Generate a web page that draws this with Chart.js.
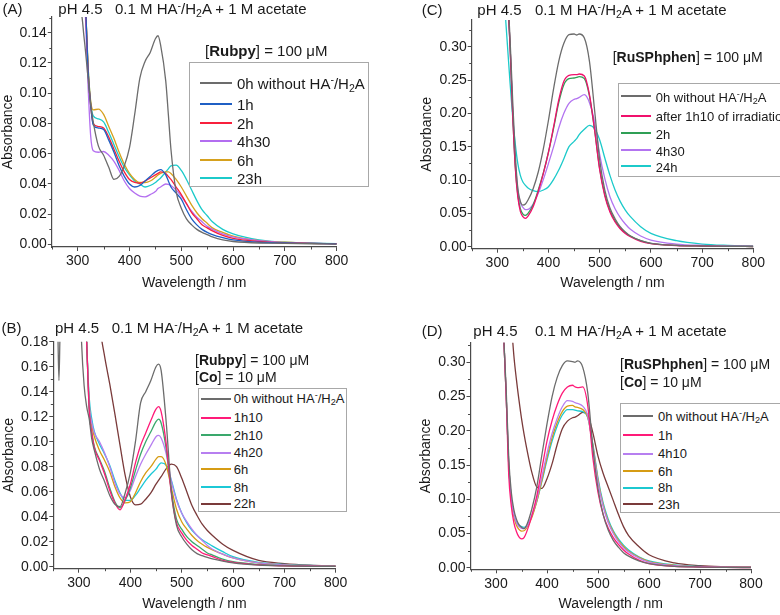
<!DOCTYPE html>
<html>
<head>
<meta charset="utf-8">
<script src="https://cdn.jsdelivr.net/npm/chart.js@4.4.0/dist/chart.umd.min.js"></script>
<style>
body { margin: 0; width: 780px; height: 615px; overflow: hidden; background: #fff; position: relative;
       font-family: "Liberation Sans", Arial, sans-serif; color: #1a1a1a; }
canvas { position: absolute; }
.txt { position: absolute; white-space: nowrap; line-height: 16px; transform: translateY(-50%); }
.lg { position: absolute; border: 1px solid #a8a8a8; background: #fff; overflow: hidden; box-sizing: border-box; }
.row { position: absolute; white-space: nowrap; line-height: 15px; transform: translateY(-50%); }
.sw { position: absolute; height: 2px; }
sup, sub { font-size: 0.7em; line-height: 0; }
sup { vertical-align: 0.5em; }
sub { vertical-align: -0.3em; }
</style>
</head>
<body>
<script>
const fontFam = '"Liberation Sans", Arial, sans-serif';

// ---- (A) Rubpy ----
const wlA = [300, 305, 310, 315, 320, 325, 330, 340, 350, 360, 370, 380, 390, 400, 410, 420, 430, 440, 450, 455, 460, 470, 475, 480, 490, 500, 510, 520, 530, 540, 550, 560, 580, 600, 650, 700, 750, 800];
const a0h   = [0.26, 0.17, 0.145, 0.128, 0.110, 0.093, 0.081, 0.065, 0.059, 0.051, 0.043, 0.045, 0.052, 0.064, 0.086, 0.110, 0.121, 0.127, 0.136, 0.138, 0.132, 0.108, 0.086, 0.063, 0.035, 0.024, 0.017, 0.013, 0.010, 0.008, 0.0065, 0.005, 0.003, 0.002, 0.001, 0.0008, 0.0005, 0.0003];
const a1h   = [0.4, 0.3, 0.2, 0.16, 0.115, 0.092, 0.079, 0.077, 0.076, 0.069, 0.061, 0.052, 0.045, 0.040, 0.038, 0.039, 0.042, 0.045, 0.048, 0.049, 0.0495, 0.046, 0.042, 0.038, 0.034, 0.030, 0.023, 0.017, 0.013, 0.010, 0.008, 0.0065, 0.0045, 0.003, 0.0015, 0.001, 0.0007, 0.0004];
const a2h   = [0.4, 0.3, 0.2, 0.16, 0.115, 0.092, 0.080, 0.078, 0.077, 0.071, 0.063, 0.055, 0.048, 0.043, 0.041, 0.0405, 0.042, 0.044, 0.046, 0.047, 0.048, 0.047, 0.045, 0.043, 0.038, 0.033, 0.027, 0.021, 0.017, 0.013, 0.011, 0.009, 0.006, 0.004, 0.002, 0.001, 0.0008, 0.0005];
const a4h30 = [0.4, 0.3, 0.2, 0.15, 0.105, 0.072, 0.062, 0.061, 0.0615, 0.059, 0.055, 0.049, 0.042, 0.037, 0.034, 0.032, 0.0315, 0.033, 0.035, 0.037, 0.038, 0.040, 0.0398, 0.039, 0.036, 0.032, 0.027, 0.022, 0.018, 0.015, 0.012, 0.010, 0.007, 0.005, 0.0025, 0.0012, 0.0008, 0.0005];
const a6h   = [0.4, 0.3, 0.2, 0.16, 0.118, 0.095, 0.089, 0.0895, 0.086, 0.078, 0.070, 0.061, 0.053, 0.047, 0.043, 0.041, 0.041, 0.042, 0.0445, 0.046, 0.047, 0.048, 0.048, 0.047, 0.043, 0.038, 0.032, 0.026, 0.021, 0.017, 0.014, 0.011, 0.008, 0.0055, 0.0025, 0.0015, 0.0008, 0.0005];
const a23h  = [0.4, 0.3, 0.2, 0.16, 0.118, 0.094, 0.085, 0.083, 0.081, 0.074, 0.066, 0.058, 0.051, 0.046, 0.042, 0.040, 0.038, 0.039, 0.041, 0.0425, 0.044, 0.048, 0.050, 0.052, 0.0525, 0.049, 0.043, 0.036, 0.029, 0.023, 0.019, 0.015, 0.010, 0.007, 0.003, 0.0015, 0.001, 0.0005];
const labelsA = ["0h without HA⁻/H₂A", "1h", "2h", "4h30", "6h", "23h"];
const colorsA = ["#6c6c6c", "#1f5fc4", "#f8203c", "#b36ef0", "#d6a11e", "#1ccaca"];
const yTicksA = [0, 0.02, 0.04, 0.06, 0.08, 0.10, 0.12, 0.14];
const yMinorA = [0.01, 0.03, 0.05, 0.07, 0.09, 0.11, 0.13, 0.15];

// ---- (B) Rubpy + Co ----
const wlB = [250, 255, 259, 261, 263, 267, 280, 300, 305, 310, 315, 320, 325, 330, 340, 350, 360, 370, 380, 390, 400, 410, 420, 430, 440, 450, 455, 460, 470, 480, 490, 500, 510, 520, 530, 540, 550, 560, 580, 600, 650, 700, 750, 800];
const b0h   = [0.35, 0.26, 0.185, 0.149, 0.185, 0.26, 0.4, 0.25, 0.18, 0.145, 0.128, 0.118, 0.102, 0.093, 0.078, 0.068, 0.057, 0.050, 0.048, 0.059, 0.075, 0.100, 0.131, 0.140, 0.149, 0.160, 0.162, 0.157, 0.115, 0.060, 0.033, 0.024, 0.018, 0.0135, 0.0105, 0.0088, 0.0074, 0.0063, 0.0045, 0.003, 0.0012, 0.0006, 0.0003, 0.0002];
const b1h10 = [null, null, null, null, null, null, null, 0.5, 0.32, 0.24, 0.18, 0.125, 0.107, 0.095, 0.085, 0.074, 0.061, 0.051, 0.0455, 0.054, 0.066, 0.083, 0.097, 0.107, 0.117, 0.126, 0.128, 0.124, 0.098, 0.058, 0.035, 0.027, 0.021, 0.017, 0.014, 0.011, 0.0095, 0.008, 0.005, 0.0035, 0.0015, 0.0007, 0.0004, 0.0002];
const b2h10 = [null, null, null, null, null, null, null, 0.5, 0.32, 0.24, 0.18, 0.125, 0.107, 0.096, 0.086, 0.076, 0.063, 0.052, 0.047, 0.053, 0.063, 0.077, 0.090, 0.100, 0.108, 0.116, 0.118, 0.115, 0.094, 0.060, 0.038, 0.030, 0.024, 0.020, 0.017, 0.014, 0.011, 0.0093, 0.006, 0.004, 0.0018, 0.0008, 0.0004, 0.0002];
const b4h20 = [null, null, null, null, null, null, null, 0.5, 0.32, 0.24, 0.18, 0.13, 0.115, 0.107, 0.100, 0.091, 0.080, 0.067, 0.058, 0.055, 0.061, 0.072, 0.082, 0.090, 0.097, 0.104, 0.105, 0.103, 0.090, 0.068, 0.053, 0.043, 0.036, 0.030, 0.025, 0.021, 0.017, 0.014, 0.010, 0.007, 0.003, 0.0015, 0.0008, 0.0004];
const b6h   = [null, null, null, null, null, null, null, 0.5, 0.32, 0.24, 0.18, 0.13, 0.113, 0.104, 0.093, 0.085, 0.076, 0.064, 0.055, 0.051, 0.052, 0.059, 0.068, 0.075, 0.080, 0.086, 0.088, 0.088, 0.081, 0.063, 0.046, 0.036, 0.030, 0.025, 0.021, 0.018, 0.0155, 0.0135, 0.010, 0.007, 0.003, 0.0015, 0.0008, 0.0004];
const b8h   = [null, null, null, null, null, null, null, 0.5, 0.32, 0.24, 0.18, 0.135, 0.118, 0.108, 0.098, 0.090, 0.081, 0.069, 0.059, 0.053, 0.053, 0.057, 0.063, 0.069, 0.074, 0.078, 0.081, 0.083, 0.081, 0.069, 0.054, 0.043, 0.035, 0.029, 0.025, 0.0215, 0.019, 0.0165, 0.012, 0.008, 0.0035, 0.0018, 0.001, 0.0005];
const b22h  = [null, null, null, null, null, null, null, 0.7, 0.6, 0.5, 0.42, 0.35, 0.3, 0.25, 0.195, 0.168, 0.146, 0.122, 0.097, 0.073, 0.056, 0.0495, 0.050, 0.054, 0.059, 0.066, 0.069, 0.072, 0.0785, 0.082, 0.080, 0.071, 0.060, 0.049, 0.041, 0.034, 0.029, 0.025, 0.018, 0.013, 0.005, 0.0025, 0.0012, 0.0006];
const labelsB = ["0h without HA⁻/H₂A", "1h10", "2h10", "4h20", "6h", "8h", "22h"];
const colorsB = ["#6c6c6c", "#ff1a78", "#3aa86c", "#b77ff0", "#d69c14", "#1cc8d6", "#7a3a3a"];
const yTicksB = [0, 0.02, 0.04, 0.06, 0.08, 0.10, 0.12, 0.14, 0.16, 0.18];
const yMinorB = [0.01, 0.03, 0.05, 0.07, 0.09, 0.11, 0.13, 0.15, 0.17];

// ---- (C) RuSPhphen ----
const wlC = [300, 310, 320, 325, 330, 335, 340, 345, 350, 355, 360, 370, 380, 390, 400, 410, 420, 430, 440, 450, 455, 460, 470, 480, 490, 500, 510, 520, 530, 540, 550, 560, 580, 600, 650, 700, 750, 800];
const c0h   = [0.6, 0.45, 0.38, 0.31, 0.22, 0.14, 0.088, 0.068, 0.0625, 0.064, 0.070, 0.087, 0.112, 0.147, 0.190, 0.237, 0.278, 0.305, 0.318, 0.319, 0.3175, 0.319, 0.313, 0.278, 0.205, 0.130, 0.085, 0.058, 0.042, 0.030, 0.022, 0.016, 0.009, 0.005, 0.002, 0.001, 0.0005, 0.0003];
const c1h10 = [0.6, 0.45, 0.37, 0.30, 0.20, 0.12, 0.075, 0.053, 0.045, 0.0425, 0.046, 0.060, 0.083, 0.110, 0.142, 0.180, 0.220, 0.248, 0.257, 0.258, 0.258, 0.259, 0.256, 0.228, 0.175, 0.115, 0.076, 0.052, 0.037, 0.027, 0.020, 0.015, 0.008, 0.0045, 0.0018, 0.001, 0.0005, 0.0003];
const c2h   = [0.6, 0.45, 0.37, 0.30, 0.20, 0.122, 0.078, 0.057, 0.049, 0.047, 0.050, 0.063, 0.085, 0.111, 0.142, 0.178, 0.216, 0.243, 0.252, 0.253, 0.254, 0.255, 0.252, 0.226, 0.175, 0.117, 0.078, 0.054, 0.039, 0.028, 0.021, 0.016, 0.009, 0.005, 0.002, 0.001, 0.0005, 0.0003];
const c4h30 = [0.6, 0.45, 0.37, 0.30, 0.205, 0.13, 0.086, 0.066, 0.059, 0.0555, 0.056, 0.064, 0.080, 0.101, 0.125, 0.150, 0.178, 0.200, 0.215, 0.221, 0.222, 0.224, 0.228, 0.216, 0.187, 0.138, 0.102, 0.075, 0.057, 0.044, 0.034, 0.026, 0.016, 0.010, 0.004, 0.002, 0.001, 0.0005];
const c24h  = [0.6, 0.42, 0.30, 0.245, 0.195, 0.155, 0.125, 0.107, 0.097, 0.092, 0.088, 0.084, 0.0825, 0.085, 0.090, 0.101, 0.115, 0.132, 0.150, 0.158, 0.162, 0.168, 0.176, 0.182, 0.177, 0.160, 0.133, 0.107, 0.085, 0.068, 0.055, 0.045, 0.030, 0.020, 0.009, 0.004, 0.002, 0.001];
const labelsC = ["0h without HA⁻/H₂A", "after 1h10 of irradiation", "2h", "4h30", "24h"];
const colorsC = ["#6c6c6c", "#f0106c", "#2f9f55", "#b374f0", "#1ccaca"];
const yTicksC = [0, 0.05, 0.10, 0.15, 0.20, 0.25, 0.30];
const yMinorC = [0.025, 0.075, 0.125, 0.175, 0.225, 0.275, 0.325];

// ---- (D) RuSPhphen + Co ----
const wlD = [300, 305, 310, 315, 320, 325, 330, 335, 340, 345, 350, 355, 360, 370, 380, 390, 400, 410, 420, 430, 440, 450, 455, 460, 470, 480, 490, 500, 510, 520, 530, 540, 550, 560, 580, 600, 650, 700, 750, 800];
const d0h   = [0.6, 0.48, 0.4, 0.34, 0.26, 0.16, 0.11, 0.085, 0.071, 0.063, 0.059, 0.057, 0.062, 0.085, 0.118, 0.165, 0.210, 0.250, 0.278, 0.295, 0.302, 0.301, 0.300, 0.302, 0.293, 0.255, 0.175, 0.115, 0.078, 0.055, 0.040, 0.030, 0.022, 0.017, 0.010, 0.006, 0.002, 0.001, 0.0005, 0.0003];
const d1h   = [0.6, 0.48, 0.4, 0.34, 0.25, 0.135, 0.09, 0.066, 0.053, 0.045, 0.042, 0.044, 0.052, 0.075, 0.105, 0.145, 0.185, 0.215, 0.238, 0.255, 0.264, 0.2665, 0.264, 0.263, 0.264, 0.236, 0.160, 0.110, 0.078, 0.058, 0.044, 0.034, 0.026, 0.020, 0.011, 0.006, 0.002, 0.001, 0.0005, 0.0003];
const d4h10 = [0.6, 0.48, 0.4, 0.34, 0.25, 0.15, 0.10, 0.078, 0.066, 0.060, 0.0575, 0.057, 0.060, 0.076, 0.100, 0.133, 0.167, 0.196, 0.218, 0.235, 0.244, 0.243, 0.241, 0.240, 0.236, 0.222, 0.175, 0.125, 0.090, 0.066, 0.050, 0.038, 0.029, 0.023, 0.014, 0.008, 0.003, 0.0015, 0.0008, 0.0004];
const d6h   = [0.6, 0.48, 0.4, 0.34, 0.25, 0.15, 0.10, 0.075, 0.062, 0.056, 0.0535, 0.054, 0.058, 0.073, 0.097, 0.128, 0.161, 0.190, 0.212, 0.228, 0.236, 0.237, 0.235, 0.234, 0.231, 0.220, 0.178, 0.128, 0.092, 0.068, 0.052, 0.040, 0.031, 0.024, 0.015, 0.009, 0.0035, 0.0015, 0.0008, 0.0004];
const d8h   = [0.6, 0.48, 0.4, 0.34, 0.25, 0.15, 0.10, 0.078, 0.067, 0.062, 0.060, 0.059, 0.061, 0.075, 0.097, 0.126, 0.157, 0.185, 0.207, 0.223, 0.231, 0.231, 0.230, 0.229, 0.228, 0.219, 0.180, 0.131, 0.095, 0.071, 0.054, 0.042, 0.033, 0.026, 0.016, 0.010, 0.004, 0.0018, 0.0009, 0.0004];
const d23h  = [1.0, 0.9, 0.75, 0.6, 0.5, 0.42, 0.36, 0.31, 0.275, 0.245, 0.218, 0.195, 0.175, 0.140, 0.118, 0.116, 0.130, 0.152, 0.180, 0.203, 0.214, 0.219, 0.220, 0.222, 0.227, 0.223, 0.197, 0.163, 0.138, 0.118, 0.098, 0.078, 0.060, 0.047, 0.031, 0.019, 0.007, 0.003, 0.0015, 0.0008];
const labelsD = ["0h without HA⁻/H₂A", "1h", "4h10", "6h", "8h", "23h"];
const colorsD = ["#6c6c6c", "#ff1a78", "#b77ff0", "#d69c14", "#1cc8d0", "#7a3a3a"];
const yTicksD = [0, 0.05, 0.10, 0.15, 0.20, 0.25, 0.30];
const yMinorD = [0.025, 0.075, 0.125, 0.175, 0.225, 0.275, 0.325];

const xTicks = [300, 400, 500, 600, 700, 800];
const xMinor = [250, 350, 450, 550, 650, 750];

// small ticks between the labelled ones
const minorTicks = {
  id: 'minorTicks',
  afterDraw(chart, args, opts) {
    const { ctx, scales: { x, y } } = chart;
    ctx.save();
    ctx.strokeStyle = '#4a4a4a';
    ctx.lineWidth = 1;
    ctx.beginPath();
    opts.x.forEach(v => {
      const px = Math.round(x.getPixelForValue(v)) + 0.5;
      ctx.moveTo(px, x.top);
      ctx.lineTo(px, x.top + 2.5);
    });
    opts.y.forEach(v => {
      if (v > y.max) return;
      const py = Math.round(y.getPixelForValue(v)) + 0.5;
      ctx.moveTo(y.right, py);
      ctx.lineTo(y.right - 2.5, py);
    });
    ctx.stroke();
    ctx.restore();
  }
};

function fmt(s) {
  return s.replace('⁻', '<sup>-</sup>').replace('₂', '<sub>2</sub>');
}

function addText(html, left, cy, size) {
  const d = document.createElement('div');
  d.className = 'txt';
  d.style.left = left + 'px';
  d.style.top = cy + 'px';
  d.style.fontSize = size + 'px';
  d.innerHTML = html;
  document.body.appendChild(d);
}

function addLegend(lg, labels, colors) {
  const box = document.createElement('div');
  box.className = 'lg';
  box.style.left = lg.left + 'px';
  box.style.top = lg.top + 'px';
  box.style.width = lg.width + 'px';
  box.style.height = lg.height + 'px';
  box.style.fontSize = lg.size + 'px';
  labels.forEach((lab, i) => {
    const cy = lg.rows[i] - lg.top - 1;
    const sw = document.createElement('div');
    sw.className = 'sw';
    sw.style.left = lg.swX + 'px';
    sw.style.width = lg.swW + 'px';
    sw.style.top = Math.round(cy - 1) + 'px';
    sw.style.background = colors[i];
    box.appendChild(sw);
    const r = document.createElement('div');
    r.className = 'row';
    r.style.left = lg.textX + 'px';
    r.style.top = cy + 'px';
    r.innerHTML = fmt(lab);
    box.appendChild(r);
  });
  document.body.appendChild(box);
}

function makePanel(p) {
  const cv = document.createElement('canvas');
  cv.width = p.w; cv.height = p.h;
  cv.style.left = p.left + 'px'; cv.style.top = p.top + 'px';
  cv.style.width = p.w + 'px'; cv.style.height = p.h + 'px';
  document.body.appendChild(cv);

  const datasets = p.series.map((vals, i) => ({
    label: p.labels[i],
    data: p.wl.map((w, j) => ({ x: w, y: vals[j] })).filter(d => d.y !== null),
    borderColor: p.colors[i],
    borderWidth: 1.3,
    pointRadius: 0,
    fill: false,
    cubicInterpolationMode: 'monotone'
  }));

  const tickFont = { family: fontFam, size: p.tickSize };
  new Chart(cv.getContext('2d'), {
    type: 'line',
    data: { datasets },
    plugins: [minorTicks],
    options: {
      responsive: false,
      animation: false,
      devicePixelRatio: 1,
      layout: { padding: p.pad },
      plugins: {
        legend: { display: false },
        tooltip: { enabled: false },
        minorTicks: { x: xMinor, y: p.yMinor }
      },
      scales: {
        x: {
          type: 'linear', min: 250, max: 800,
          afterFit: s => { s.height = p.xH; },
          afterBuildTicks: s => { s.ticks = xTicks.map(v => ({ value: v })); },
          grid: { drawOnChartArea: false, tickLength: 4, color: '#4a4a4a' },
          border: { color: '#4a4a4a', width: 1.2 },
          ticks: { font: tickFont, color: '#1a1a1a', padding: 2, maxRotation: 0, autoSkip: false },
          title: { display: true, text: 'Wavelength / nm', color: '#1a1a1a',
                   font: { family: fontFam, size: 14 }, padding: { top: 0, bottom: 1 } }
        },
        y: {
          type: 'linear', min: p.yMin, max: p.yMax,
          afterFit: s => { s.width = p.yW; },
          afterBuildTicks: s => { s.ticks = p.yTicks.map(v => ({ value: v })); },
          grid: { drawOnChartArea: false, tickLength: 4, color: '#4a4a4a' },
          border: { color: '#4a4a4a', width: 1.2 },
          ticks: { font: tickFont, color: '#1a1a1a', padding: 1, autoSkip: false,
                   callback: v => v.toFixed(2) },
          title: { display: true, text: 'Absorbance', color: '#1a1a1a',
                   font: { family: fontFam, size: 14 }, padding: { top: 0, bottom: 0 } }
        }
      }
    }
  });

  addText(p.tag, p.tagX, p.titleY, 15);
  addText('pH 4.5', p.phX, p.titleY, 15);
  addText('0.1 M ' + fmt('HA⁻/H₂A') + ' + 1 M acetate', p.condX, p.titleY, 15);
  p.notes.forEach(n => addText(n.html, n.x, n.y, n.size));
  addLegend(p.legend, p.labels, p.colors);
}

const panels = [
  { left: 0, top: 0, w: 390, h: 300, pad: { left: 0, top: 17, right: 53.3, bottom: 7.6 }, yW: 51.8, xH: 45.4,
    yMin: -0.00165, yMax: 0.1504, yTicks: yTicksA, yMinor: yMinorA, tickSize: 14,
    wl: wlA, series: [a0h, a1h, a2h, a4h30, a6h, a23h], labels: labelsA, colors: colorsA,
    tag: '(A)', tagX: 2.5, phX: 58.3, condX: 115, titleY: 8.5,
    notes: [{ html: '[<b>Rubpy</b>] = 100 μM', x: 205, y: 50.7, size: 15 }],
    legend: { left: 189, top: 62.3, width: 180, height: 124.4, size: 15, swX: 10, swW: 32, textX: 47,
              rows: [83.3, 104.3, 122.8, 141.3, 159.8, 178.3] } },
  { left: 390, top: 0, w: 390, h: 300, pad: { left: 29.1, top: 20, right: 26.7, bottom: 7.3 }, yW: 52.6, xH: 44,
    yMin: -0.003, yMax: 0.34, yTicks: yTicksC, yMinor: yMinorC, tickSize: 14,
    wl: wlC, series: [c0h, c1h10, c2h, c4h30, c24h], labels: labelsC, colors: colorsC,
    tag: '(C)', tagX: 421.7, phX: 477.3, condX: 535, titleY: 10,
    notes: [{ html: '[<b>RuSPhphen</b>] = 100 μM', x: 612.7, y: 56.7, size: 14 }],
    legend: { left: 617.7, top: 83.3, width: 175, height: 93.4, size: 13, swX: 2, swW: 30, textX: 37,
              rows: [96.7, 116, 133.7, 150.7, 166.7] } },
  { left: 0, top: 300, w: 390, h: 315, pad: { left: 0.8, top: 41.7, right: 54.3, bottom: 1.4 }, yW: 52.5, xH: 44.9,
    yMin: -0.0016, yMax: 0.18, yTicks: yTicksB, yMinor: yMinorB, tickSize: 14,
    wl: wlB, series: [b0h, b1h10, b2h10, b4h20, b6h, b8h, b22h], labels: labelsB, colors: colorsB,
    tag: '(B)', tagX: 1.5, phX: 55, condX: 111.7, titleY: 328.3,
    notes: [{ html: '[<b>Rubpy</b>] = 100 μM', x: 195, y: 360, size: 14 },
            { html: '[<b>Co</b>] = 10 μM', x: 195, y: 377.3, size: 14 }],
    legend: { left: 197.7, top: 387.7, width: 149, height: 124.6, size: 13, swX: 2, swW: 30, textX: 35,
              rows: [398.3, 417.3, 435, 452.3, 469, 486.7, 503.3] } },
  { left: 390, top: 300, w: 390, h: 315, pad: { left: 27.4, top: 42.7, right: 29, bottom: 1.6 }, yW: 53.1, xH: 44.1,
    yMin: -0.0023, yMax: 0.3286, yTicks: yTicksD, yMinor: yMinorD, tickSize: 14,
    wl: wlD, series: [d0h, d1h, d4h10, d6h, d8h, d23h], labels: labelsD, colors: colorsD,
    tag: '(D)', tagX: 421.7, phX: 473.3, condX: 535, titleY: 331.3,
    notes: [{ html: '[<b>RuSPhphen</b>] = 100 μM', x: 620, y: 364.3, size: 14 },
            { html: '[<b>Co</b>] = 10 μM', x: 620, y: 381.7, size: 14 }],
    legend: { left: 620, top: 402.7, width: 170, height: 110.6, size: 13, swX: 2, swW: 30, textX: 37,
              rows: [416, 435, 453.3, 470.7, 487.3, 504] } }
];

panels.forEach(makePanel);
</script>
</body>
</html>
